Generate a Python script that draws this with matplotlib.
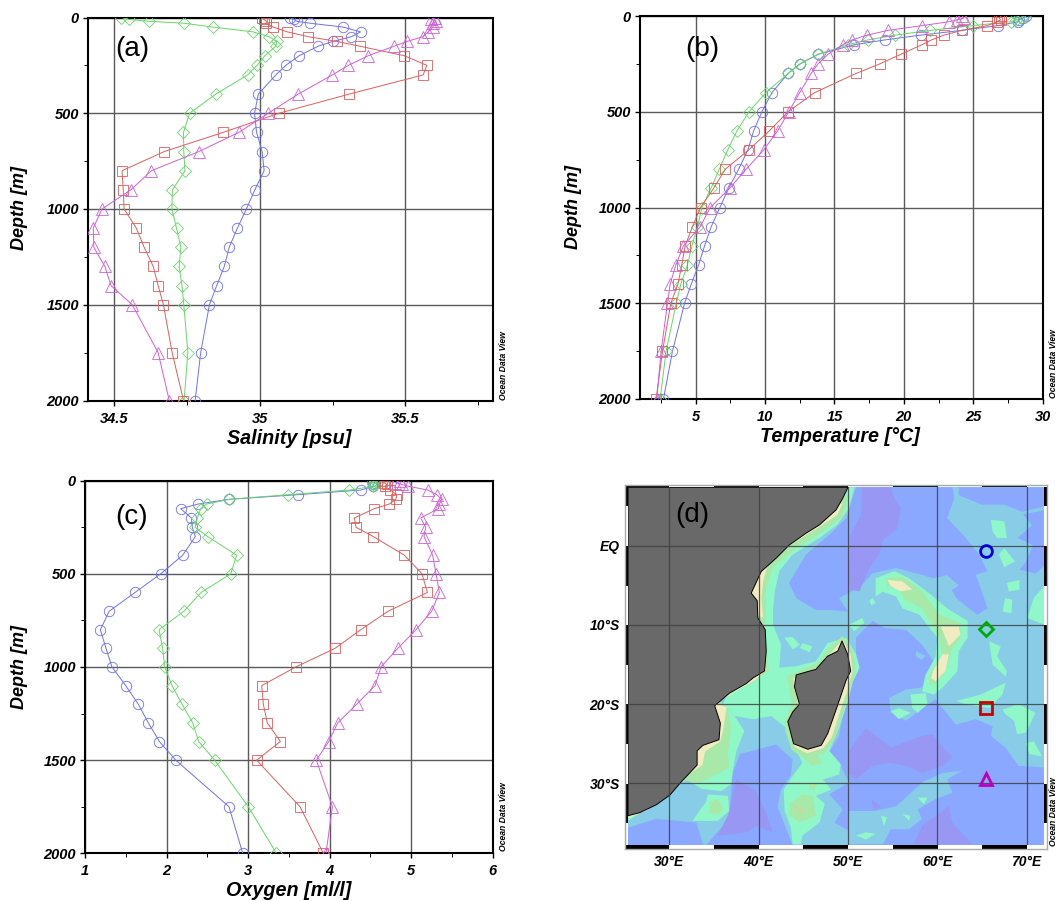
import matplotlib
matplotlib.use('Agg')
import matplotlib.pyplot as plt
from matplotlib.ticker import MultipleLocator

plt.rcParams['font.family'] = ['Liberation Sans', 'DejaVu Sans']

# profundidades padrao
depth = [0, 10, 20, 30, 50, 75, 100, 125, 150, 200, 250, 300, 400, 500, 600, 700, 800,
         900, 1000, 1100, 1200, 1300, 1400, 1500, 1750, 2000]

sal_blue = [35.103, 35.117, 35.128, 35.174, 35.286, 35.346, 35.315, 35.252, 35.200, 35.135, 35.089, 35.055, 34.995,
            34.982, 34.989, 35.008, 35.015, 34.983, 34.954, 34.923, 34.895, 34.878, 34.852, 34.827, 34.797, 34.778]
sal_green = [34.525, 34.551, 34.620, 34.741, 34.838, 34.977, 35.031, 35.059, 35.055, 35.017, 34.991, 34.958, 34.849,
             34.759, 34.738, 34.739, 34.743, 34.700, 34.698, 34.714, 34.729, 34.723, 34.733, 34.739, 34.753, 34.740]
sal_red = [35.007, 35.014, 35.023, 35.021, 35.046, 35.094, 35.166, 35.265, 35.344, 35.497, 35.574, 35.561, 35.307,
           35.066, 34.874, 34.672, 34.527, 34.531, 34.534, 34.576, 34.603, 34.634, 34.651, 34.669, 34.699, 34.738]
sal_mag = [35.603, 35.589, 35.606, 35.595, 35.595, 35.578, 35.561, 35.506, 35.461, 35.372, 35.304, 35.249, 35.132,
           35.029, 34.928, 34.791, 34.628, 34.557, 34.458, 34.428, 34.430, 34.468, 34.489, 34.562, 34.651, 34.689]

temp_blue = [28.77, 28.61, 28.29, 28.25, 26.80, 24.16, 21.20, 18.63, 16.44, 13.82, 12.52, 11.66, 10.50,
             9.78, 9.18, 8.77, 8.10, 7.38, 6.75, 6.13, 5.65, 5.22, 4.69, 4.21, 3.34, 2.69]
temp_green = [28.65, 28.41, 28.05, 27.69, 25.0, 21.92, 19.35, 17.40, 15.96, 13.82, 12.55, 11.66, 10.07,
              8.85, 7.98, 7.31, 6.71, 6.11, 5.46, 5.14, 4.74, 4.42, 3.94, 3.61, 2.88, 2.45]
temp_red = [27.02, 26.85, 26.97, 26.73, 26.01, 24.18, 22.88, 21.99, 21.30, 19.78, 18.27, 16.56, 13.58,
            11.66, 10.31, 8.82, 7.14, 6.30, 5.36, 4.78, 4.25, 4.01, 3.73, 3.22, 2.62, 2.16]
temp_mag = [24.21, 24.33, 23.85, 23.25, 21.32, 18.85, 17.36, 16.27, 15.60, 14.54, 13.82, 13.32, 12.50,
            11.71, 10.91, 9.90, 8.65, 7.45, 6.06, 5.34, 4.13, 3.58, 3.17, 2.98, 2.52, 2.21]

oxy_blue = [4.516, 4.557, 4.536, 4.536, 4.385, 3.612, 2.766, 2.390, 2.173, 2.304, 2.316, 2.353, 2.198,
            1.928, 1.613, 1.298, 1.188, 1.258, 1.331, 1.499, 1.654, 1.777, 1.912, 2.112, 2.766, 2.934]
oxy_green = [4.557, 4.577, 4.536, 4.536, 4.242, 3.494, 2.770, 2.492, 2.419, 2.378, 2.349, 2.505, 2.860,
             2.787, 2.423, 2.214, 1.908, 1.953, 1.977, 2.067, 2.190, 2.321, 2.394, 2.590, 3.003, 3.347]
oxy_red = [4.639, 4.667, 4.700, 4.680, 4.741, 4.823, 4.814, 4.733, 4.549, 4.303, 4.324, 4.536, 4.917,
           5.133, 5.199, 4.720, 4.381, 4.066, 3.584, 3.167, 3.187, 3.236, 3.396, 3.105, 3.637, 3.923]
oxy_mag = [4.863, 4.802, 4.884, 4.966, 5.203, 5.313, 5.375, 5.346, 5.334, 5.117, 5.178, 5.158, 5.264,
           5.305, 5.346, 5.252, 5.060, 4.835, 4.630, 4.557, 4.332, 4.099, 3.989, 3.837, 4.034, 3.956]

# estacoes no mapa (lon, lat)
st_lon = [65.5, 65.5, 65.5, 65.5]
st_lat = [-0.6, -10.5, -20.55, -29.4]

map_lon_ticks = [30, 40, 50, 60, 70]
map_lon_labels = ['30°E', '40°E', '50°E', '60°E', '70°E']
map_lat_ticks = [0, -10, -20, -30]
map_lat_labels = ['EQ', '10°S', '20°S', '30°S']

# contornos do mapa (lon, lat)
africa = [(50, 7.4), (49.4, 6), (48.66, 4.54), (46.8, 2.65), (45.3, 1.6), (43.45, 0.13), (41.96, -1.55), (40.28, -3.24),
          (39.6, -4.9), (39.16, -5.97), (39.83, -6.93), (39.9, -9.1), (40.73, -10.6), (40.84, -13.3), (40.65, -15.8),
          (39.35, -16.7), (38.6, -17.4), (36.74, -18.6), (35.07, -20.2), (35.7, -22.4), (35.55, -24.5), (33.76, -25.2),
          (33.1, -25.9), (33.1, -27.7), (31.34, -29.8), (30.04, -31.5), (28.55, -32.7), (26.7, -33.7), (25.36, -34.1),
          (25.36, 7.4)]
madagascar = [(49.33, -12), (49.96, -13.7), (50.3, -15.8), (49.78, -17), (48.85, -20.1), (47.73, -23.7), (47, -25.2),
              (45.5, -25.7), (43.9, -25), (43.26, -22.2), (43.8, -21), (44.56, -20), (44, -17.8), (44.2, -16.3),
              (46.4, -15.6), (47.7, -13.95), (48.85, -13.3)]

blue_n1 = [(50.9, 7.4), (61.7, 7.4), (61.9, 6), (61.1, 3.5), (63.2, 1), (64.7, -1.1), (65.6, -3.2), (64.3, -3.66),
           (65, -5.8), (65.6, -7.9), (64.5, -8.7), (62.1, -6.6), (61.3, -4.9), (59.5, -4.1), (58.3, -3.66), (55.4, -2.8),
           (52.75, -3.45), (51.6, -4.9), (50.3, -5.8), (49, -6.6), (50, -8.3), (47.9, -8.1), (46.4, -8.1), (44.2, -6.6),
           (43.4, -4.7), (45.3, -1.1), (47.9, 1.4), (49.8, 3.5), (50.5, 6)]
blue_n2 = [(62.4, 7.4), (72, 7.4), (72, 5), (69.5, 4.3), (67.5, 5.2), (65, 5.2), (62.4, 6.4)]
blue_n3 = [(72, 4.5), (69.6, 4), (70.6, 2.6), (69, 1), (70.7, 0.1), (70, -1.9), (69.2, -3), (71, -3.5), (72, -2.5)]
blue_s = [(50.9, -11.6), (52.75, -9.5), (54.2, -10.4), (56.5, -10.6), (58.3, -12.5), (59.6, -14.6), (58.7, -16.3),
          (58.3, -17.9), (56.5, -18.15), (54.6, -19.2), (54.8, -21.1), (56.5, -22.1), (58.7, -20.25), (59.8, -19.4),
          (62.1, -22.6), (64.3, -21.9), (66.2, -22.8), (66, -24), (67.65, -25.5), (69.1, -27.8), (72, -28), (72, -37.8),
          (50, -37.8), (50.1, -36), (48.5, -35), (49.4, -33.3), (47.9, -31.4), (50.1, -29.9), (49.2, -27.8), (47.9, -26.1),
          (49, -24), (49.4, -21.5), (50.4, -18), (50.9, -15)]
blue_moz = [(37.9, -26.3), (41.95, -25.1), (43.8, -27), (43.6, -29), (42.5, -30.8), (42.1, -32.9), (43.1, -35.8),
            (43.8, -37.8), (34.1, -37.8), (36, -35.4), (36.7, -33.7), (37.1, -28.7)]
blue_sw = [(25.4, -35.6), (28.5, -34.5), (33, -34.95), (33.8, -37.8), (25.36, -37.8)]

lb_ridge = [(50.1, -37.7), (53.9, -37.7), (54.8, -35.8), (56.85, -35.8), (58.3, -34.5), (57.8, -33.3), (59.8, -32),
            (61.7, -31.2), (61.1, -29.5), (62.8, -28.4), (60.6, -28.7), (58.3, -29.9), (56.85, -31.4), (55.4, -32.9),
            (53.1, -33.5), (50.1, -33.5)]
lb_p1 = [(59.5, -4.1), (61.1, -3.7), (62.4, -5), (61.1, -6)]
lb_p2 = [(57.6, -13.3), (58.7, -13.9), (58.2, -14.4), (57.6, -13.9)]
lb_p3 = [(53.5, -7.9), (53.9, -8.4), (53.4, -8.8), (53, -8.4)]
lb_p4 = [(54.4, -8.9), (55, -9.2), (54.5, -9.6), (54.1, -9.2)]

pur_n = [(51.6, 7.4), (54.8, 7.4), (55.2, 6), (55.9, 4.75), (55.55, 2.2), (53.9, 0.75), (53.5, -1.1), (52.2, -3.2),
         (51.3, -5.75), (50.3, -5.55), (50.1, -3.65), (50.3, 1.4), (51.45, 3.9)]
pur_c = [(50, -26.1), (52, -23), (54.8, -25.5), (58.3, -24), (59.5, -23.8), (60.6, -25.5), (61.7, -26.6), (60.6, -27.8),
         (58.3, -28.7), (56.5, -27.8), (54.6, -27.4), (52.75, -27.8), (50.9, -29.5), (50, -28.7)]
pur_sw = [(37.5, -29.5), (39.7, -31), (40.8, -33.7), (41.6, -36.2), (39.7, -35.4), (38.6, -36.2), (35.4, -36.6),
          (36.55, -34.1), (37.1, -31.6)]
pur_se = [(58.3, -35.4), (61.3, -32.9), (61.7, -35), (63.9, -37.7), (57.4, -37.7)]
pur_p = [(52.6, -32), (53.7, -33), (52.9, -33.3)]

mint_main = [(50.7, 7.4), (50.1, 4.75), (48.8, 2.65), (46.8, 1), (43.8, -1.1), (42.3, -3.2), (41.8, -5.75), (41.6, -8.3),
             (41.6, -9.96), (42.5, -12.5), (42.3, -15.4), (44.2, -15.2), (46.4, -14.6), (47.7, -12.3), (49.8, -11.6),
             (50.9, -13.7), (51.3, -15.4), (50.5, -17.3), (50, -19.6), (49, -23), (47.9, -25.9), (49.2, -27.6), (49, -28.9),
             (47.2, -29.5), (48.1, -30.8), (46.4, -31.6), (47.4, -32.6), (46.8, -34.96), (44.9, -36.6), (44.7, -37.7),
             (43.8, -37.7), (43.6, -35.6), (42.9, -33.5), (42.8, -30.8), (43.8, -29.1), (44.9, -27.4), (43.8, -25.1),
             (43.1, -23), (41.4, -21.5), (39.4, -21.9), (37.3, -21.5), (36, -20), (38, -15), (39, -5), (45, 2), (49, 7.4)]
mint_coast = [(36, -20), (37.3, -21.5), (38.4, -23.4), (37.5, -25.9), (37.1, -28.4), (36.9, -30.1), (35.8, -31),
              (33.6, -30.7), (31.9, -29.5), (30.6, -30.7), (29.5, -31.6), (27.8, -32.9), (25.4, -34.75), (25.36, -30), (35, -20)]
mint_m3 = [(34.3, -31.4), (36.55, -31.6), (36.7, -33.5), (35.4, -34.75), (32.6, -34.75), (33.6, -33.1), (34.1, -32.4)]
mint_plat = [(53.1, -4.1), (55.2, -3.2), (56.85, -4.1), (59.1, -6), (61.1, -7.9), (63.4, -9.5), (63.4, -11.6), (62.4, -13.3),
             (62.25, -15.85), (60.6, -17.9), (59.6, -18.8), (58.3, -18.4), (58.7, -16.3), (59.8, -14), (60, -11.6), (58, -8.7),
             (56.1, -7.9), (55.4, -6.4), (53.9, -5.8), (53.1, -6.4)]
mint_small = [
    [(52.75, -6.6), (53.1, -7.2), (52.6, -7.5), (52.4, -6.9)],
    [(50.1, -10), (51.6, -9.1), (51.8, -9.75), (50.7, -10.8)],
    [(42.9, -11.6), (43.8, -11.5), (44.6, -12.5), (43.8, -13.1)],
    [(44.9, -12.3), (46, -12.7), (45.7, -13.45), (44.6, -12.9)],
    [(66, 3.3), (67.5, 3.1), (67.8, 1), (66.7, 1), (66.2, 1.8)],
    [(67.5, -0.3), (68.7, -1.95), (67.5, -2.7), (66.9, -1.1)],
    [(67.8, -4.7), (69.2, -4.3), (69.2, -5.55), (68, -5.75)],
    [(67.6, -6.6), (68.4, -6.8), (68.3, -8.5), (67.3, -8.3)],
    [(71.95, -5.1), (71.95, -9.96), (70.1, -9.1), (70.8, -6.6)],
    [(65.8, -12.06), (67.1, -12.7), (66.7, -13.95), (67.8, -15.85), (67.65, -16.5), (66.2, -15)],
    [(62.1, -19.6), (64.85, -18.8), (67.65, -17.3), (67.3, -18.8), (65.8, -20.5), (63.2, -20)],
    [(67.3, -20.7), (69.1, -20), (71, -21.1), (69.9, -23.6), (68.95, -23.8), (68.6, -22.1), (67.65, -21.3)],
    [(69.9, -24.9), (70.8, -24.7), (71.75, -26.6), (70.3, -26.3)],
    [(54.8, -20.9), (55.7, -20.5), (57, -21.1), (55.7, -21.9)],
    [(57, -18.8), (58.7, -18.6), (58.9, -20), (57.8, -21.1), (57.2, -20.5)],
    [(53.7, -34.1), (54.4, -34.3), (54, -35.4)],
    [(56.1, -33.9), (57, -34.1), (56.85, -34.75)],
    [(52, -36.2), (53.1, -36.4), (52, -37.1), (50.9, -36.6)],
    [(57.8, -31.8), (58.9, -31.8), (58.5, -32.65)],
]

green_north = [(50, 6.4), (49.4, 3.7), (47.2, 1.8), (44.2, -0.3), (41.6, -2.8), (40.8, -5.35), (40.8, -8.7), (40.7, -10.4),
               (41, -14.6), (41.2, -15.8), (39, -17.5), (36, -18), (38, -8), (42, 0), (49, 6)]
green_south = [(35.3, -19.2), (36.55, -20.7), (36.9, -23), (36.55, -26.3), (36.7, -28), (35.25, -28.9), (33.4, -29.9),
               (31.9, -29.7), (30, -28), (34, -20)]
green_m3 = [(34.5, -32.4), (35.4, -32), (36, -33.1), (35.6, -33.9), (34.5, -33.9)]
green_ridge = [(43.4, -32.65), (44.9, -31.4), (46.05, -31.6), (46.4, -34.1), (44.6, -34.95), (43.4, -34.1)]
green_r2 = [(45.7, -30), (46.6, -30), (46.2, -30.9), (45.6, -30.8)]
green_r3 = [(44.6, -26.3), (46.4, -26.3), (47.2, -27.4), (46.05, -27.8)]
green_plat = [(54.2, -4.1), (56.1, -3.9), (58.3, -5.75), (60.2, -8.7), (62.6, -9.75), (62.6, -11.6), (61.7, -12.9), (60.9, -15.85),
              (59.8, -17.5), (59.1, -17.5), (59.1, -16.3), (60.6, -13.7), (60.2, -11.6), (58.3, -7.9), (56.3, -6.8), (55.7, -5.5), (54.4, -5.1)]
green_mad = [(49.4, -11.4), (50.6, -13.3), (50.9, -15.85), (50.2, -18.4), (49.4, -21.3), (48.6, -24.25), (47.4, -26.2),
             (45.3, -27), (43.7, -25.8), (43, -23.5), (42.9, -22.2), (43.7, -20), (43.4, -18), (43.2, -16.4), (46.6, -14.8), (47.9, -12.8)]

cream_east = [(49.4, 5.4), (48.8, 3.9), (46.8, 2.4), (43.8, 0.3), (41, -2.4), (40.5, -4.5), (40.3, -6.6), (40.5, -9.1),
              (38, -8), (40, 0), (48, 5)]
cream_chan = [(40.9, -15.5), (39.7, -16.9), (37.5, -18.3), (35.3, -19.9), (35, -17), (39, -14)]
cream_south = [(35.1, -19.8), (36.4, -20.4), (36, -23.4), (35.7, -24.7), (34, -26), (33.7, -27.7), (32, -29), (30.5, -30.7),
               (29, -31.9), (27.5, -33.4), (25.4, -34.4), (25.4, -32), (33, -22)]
cream_mad = [(49.4, -11.8), (50.3, -13.7), (50.5, -15.85), (49.95, -18.2), (49, -21.3), (48.2, -24.2), (47.2, -25.6), (45.4, -26.2),
             (44, -25.4), (43.5, -23.5), (43.6, -22), (44.4, -20), (43.9, -17.4), (43.9, -16.7), (46.8, -15.2), (47.9, -13.8)]
cream_c1 = [(54.4, -4.3), (56.1, -4.5), (57.2, -5.5), (55.9, -5.75), (54.8, -5.1)]
cream_c2 = [(60.4, -10.2), (62.4, -10.2), (62.6, -11.2), (61.3, -12.7), (60.9, -11.6)]
cream_c3 = [(60.6, -13.7), (61.3, -13.7), (60.9, -15.85), (59.8, -17.1), (59.3, -16.7), (59.5, -15.85)]
tan_ridge = [(43.9, -32.85), (45.1, -33.3), (44.6, -33.9)]

W, H = 1057, 901
fig = plt.figure(figsize=(W / 100, H / 100), dpi=100)

TAM_MK = {'o': 7.5, 'D': 6, 's': 7, '^': 8.5}


def eixo_px(x0, x1, y0, y1):
    # eixo a partir de pixels da imagem
    return fig.add_axes([x0 / W, 1 - y1 / H, (x1 - x0) / W, (y1 - y0) / H])


def painel(ax, xlim, major, minor, label, lx, ly, dlx, dly, serie, letra, tx, ty, odv_x, odv_y):
    for vals, cor, mk in serie:
        ax.plot(vals, depth, color=cor, lw=0.7, marker=mk, ms=TAM_MK[mk], mfc='none', mew=0.6, zorder=3)
    ax.set_xlim(*xlim)
    ax.set_ylim(2000, 0)
    ax.xaxis.set_major_locator(MultipleLocator(major))
    ax.xaxis.set_minor_locator(MultipleLocator(minor))
    ax.yaxis.set_major_locator(MultipleLocator(500))
    ax.yaxis.set_minor_locator(MultipleLocator(250))
    ax.grid(True, which='major', color='#5a5a5a', lw=1)
    ax.set_axisbelow(True)
    ax.tick_params(which='major', length=3.5, width=1)
    ax.tick_params(which='minor', length=3, width=0.7)
    ax.tick_params(axis='x', which='major', pad=4.5)
    ax.tick_params(axis='y', which='major', pad=3)
    for t in ax.get_xticklabels() + ax.get_yticklabels():
        t.set_fontsize(10.5)
        t.set_fontweight('bold')
        t.set_fontstyle('italic')
    for s in ax.spines.values():
        s.set_linewidth(1.5)
    fig.text(lx / W, 1 - ly / H, label, ha='center', va='center', fontsize=14.2, fontweight='bold', fontstyle='italic')
    fig.text(dlx / W, 1 - dly / H, 'Depth [m]', rotation=90, ha='center', va='center', fontsize=13,
             fontweight='bold', fontstyle='italic')
    fig.text(tx / W, 1 - ty / H, letra, ha='left', va='center', fontsize=20)
    fig.text(odv_x / W, 1 - odv_y / H, 'Ocean Data View', rotation=90, ha='center', va='bottom', fontsize=6.2,
             fontweight='bold', fontstyle='italic')


BLUE = '#6f6ff5'
GREEN = '#66d866'
RED = '#e25c5c'
MAG = '#d05fd8'

ax_a = eixo_px(88, 492.7, 17.5, 400.5)
painel(ax_a, (34.41, 35.8), 0.5, 0.25, 'Salinity [psu]', 289, 438, 19, 208,
       [(sal_blue, BLUE, 'o'), (sal_green, GREEN, 'D'), (sal_red, RED, 's'), (sal_mag, MAG, '^')],
       '(a)', 115, 49, 503, 400)
ax_a.set_xticks([34.5, 35, 35.5])
ax_a.set_xticklabels(['34.5', '35', '35.5'], fontsize=10.5, fontweight='bold', fontstyle='italic')

ax_b = eixo_px(640, 1042.7, 16, 399)
painel(ax_b, (1, 30), 5, 2.5, 'Temperature [°C]', 840, 436, 574, 207,
       [(temp_blue, BLUE, 'o'), (temp_green, GREEN, 'D'), (temp_red, RED, 's'), (temp_mag, MAG, '^')],
       '(b)', 685, 49, 1053, 398)

ax_c = eixo_px(85, 492.7, 480.7, 853.3)
painel(ax_c, (1, 6), 1, 0.5, 'Oxygen [ml/l]', 289, 890, 19, 667,
       [(oxy_blue, BLUE, 'o'), (oxy_green, GREEN, 'D'), (oxy_red, RED, 's'), (oxy_mag, MAG, '^')],
       '(c)', 115, 517, 503, 851)

# mapa (d)
ax_d = eixo_px(628, 1044, 487.3, 845)
ax_d.set_xlim(25.36, 71.95)
ax_d.set_ylim(-37.8, 7.4)
ax_d.set_facecolor('#88cce8')

camadas = [
    ('#8aa8ff', [blue_n1, blue_n2, blue_n3, blue_s, blue_moz, blue_sw]),
    ('#88cce8', [lb_ridge, lb_p1, lb_p2, lb_p3, lb_p4]),
    ('#9898f4', [pur_n, pur_c, pur_sw, pur_se, pur_p]),
    ('#90f8c8', [mint_main, mint_coast, mint_m3, mint_plat] + mint_small),
    ('#a8e8a8', [green_north, green_south, green_m3, green_ridge, green_r2, green_r3, green_plat, green_mad]),
    ('#c8d8a0', [tan_ridge]),
    ('#f0ebc0', [cream_east, cream_chan, cream_south, cream_mad, cream_c1, cream_c2, cream_c3]),
]
for cor, polys in camadas:
    for p in polys:
        ax_d.fill([q[0] for q in p], [q[1] for q in p], color=cor, lw=0, zorder=1)
for p in [africa, madagascar]:
    ax_d.fill([q[0] for q in p], [q[1] for q in p], facecolor='#696969', edgecolor='black', lw=0.7, zorder=2)

ax_d.set_xticks(map_lon_ticks)
ax_d.set_xticklabels(map_lon_labels, fontsize=10, fontweight='bold', fontstyle='italic')
ax_d.set_yticks(map_lat_ticks)
ax_d.set_yticklabels(map_lat_labels, fontsize=10, fontweight='bold', fontstyle='italic')
ax_d.tick_params(axis='x', length=0, pad=7)
ax_d.tick_params(axis='y', length=0, pad=6)
ax_d.grid(True, color='#404040', lw=0.9, alpha=0.85, zorder=3)
ax_d.set_axisbelow(False)
for s in ax_d.spines.values():
    s.set_visible(False)

# moldura preta e branca em graus
frame = fig.add_axes([624.7 / W, 1 - 848.5 / H, (1047 - 624.7) / W, (848.5 - 484.5) / H], zorder=-1)
frame.set_xlim(25, 72.25)
frame.set_ylim(-38.2, 7.75)
frame.set_xticks([])
frame.set_yticks([])
for s in frame.spines.values():
    s.set_color('#aaaaaa')
    s.set_linewidth(1)
for x0 in [25, 35, 45, 55, 65]:
    frame.fill_between([x0, x0 + 5], 7.4, 7.75, color='black', lw=0)
    frame.fill_between([x0, x0 + 5], -38.2, -37.8, color='black', lw=0)
for y0 in [0, -10, -20, -30]:
    frame.fill_between([25, 25.36], y0 - 5, y0, color='black', lw=0)
    frame.fill_between([71.95, 72.25], y0 - 5, y0, color='black', lw=0)
frame.fill_between([25, 25.36], 5, 7.4, color='black', lw=0)
frame.fill_between([71.95, 72.25], 5, 7.4, color='black', lw=0)

mk_cor = ['#0000dd', '#00aa00', '#cc0000', '#bb00bb']
mk_tipo = ['o', 'D', 's', '^']
for lo, la, c, m in zip(st_lon, st_lat, mk_cor, mk_tipo):
    ax_d.plot([lo], [la], marker=m, ms=8.5 if m != 'D' else 7, mfc='none', mec=c, mew=2, zorder=5, ls='none')

fig.text(675 / W, 1 - 515 / H, '(d)', ha='left', va='center', fontsize=20)
fig.text(1053 / W, 1 - 846 / H, 'Ocean Data View', rotation=90, ha='center', va='bottom', fontsize=6.2,
         fontweight='bold', fontstyle='italic')

fig.savefig('out.png', dpi=100)
